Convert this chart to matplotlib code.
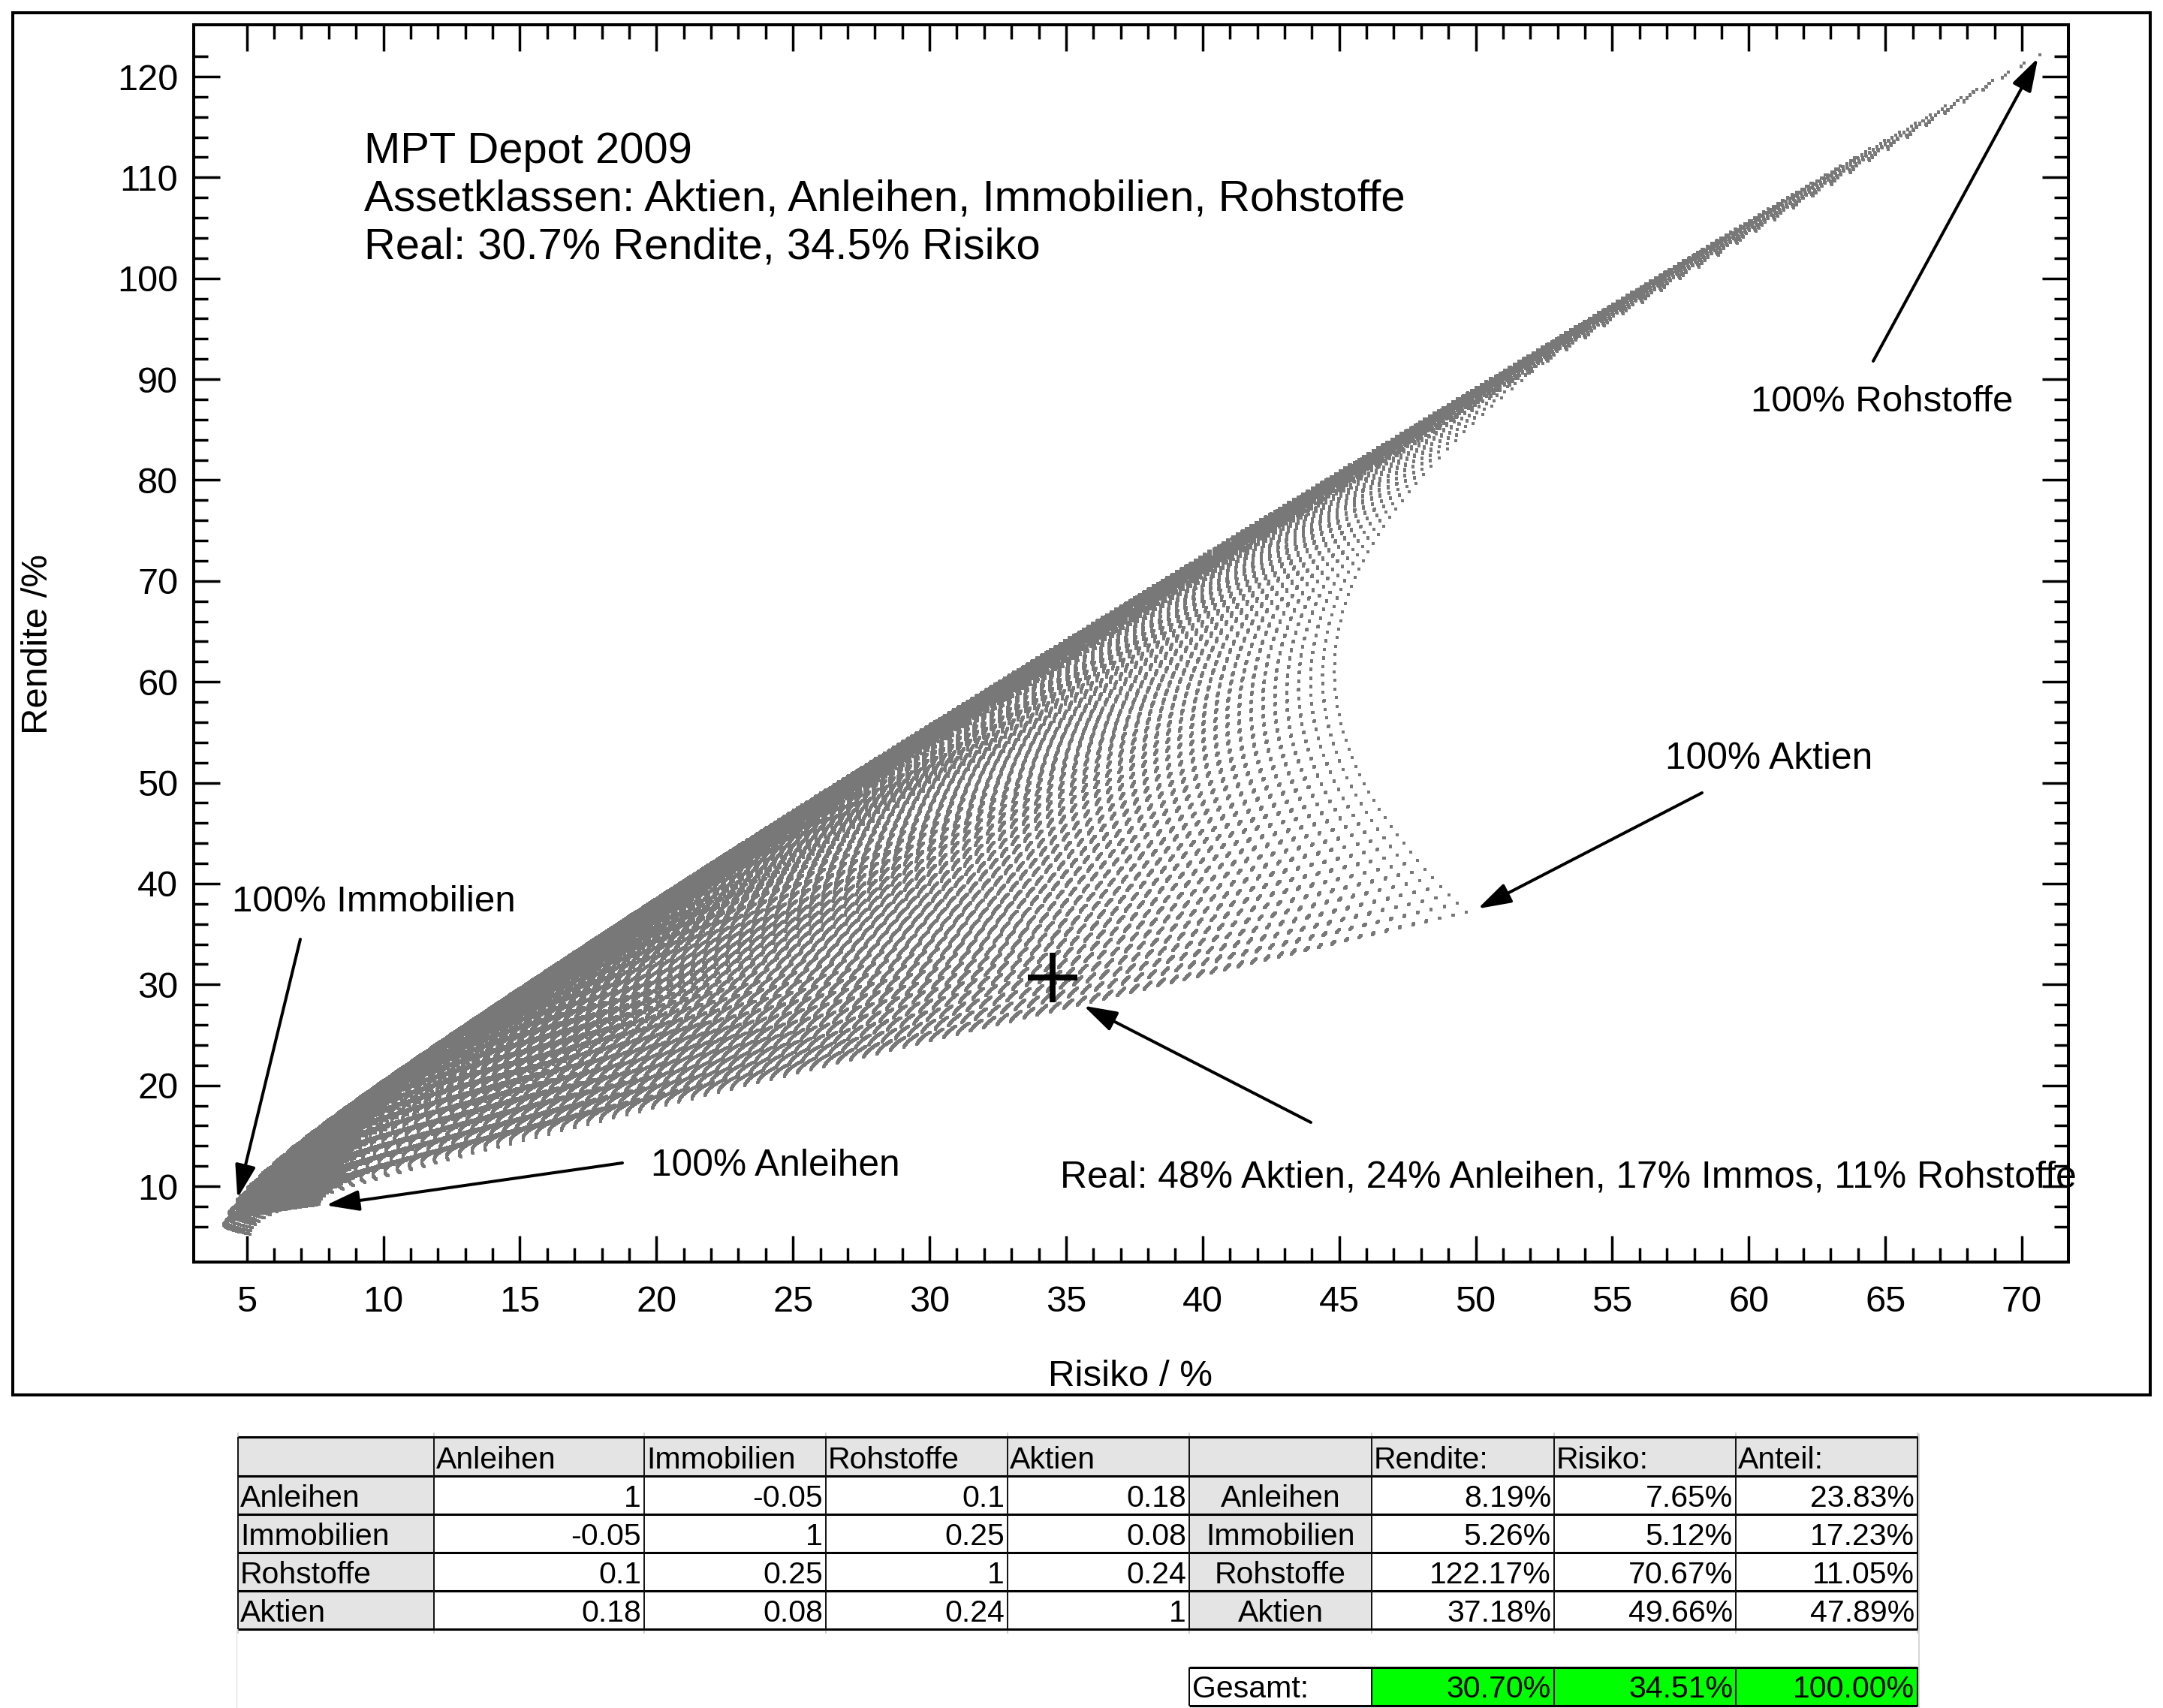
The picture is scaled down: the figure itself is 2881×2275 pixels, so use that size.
import numpy as np
import matplotlib
matplotlib.use("Agg")
import matplotlib.pyplot as plt
from matplotlib.patches import Rectangle
from matplotlib.ticker import FixedLocator

plt.rcParams['font.family'] = ['Liberation Sans', 'DejaVu Sans']

# ---- values as printed in the chart's table ----
ASSETS = ["Anleihen", "Immobilien", "Rohstoffe", "Aktien"]
KORRELATION = [[1, -0.05, 0.1, 0.18],
               [-0.05, 1, 0.25, 0.08],
               [0.1, 0.25, 1, 0.24],
               [0.18, 0.08, 0.24, 1]]
KORR_LABELS = [["1", "-0.05", "0.1", "0.18"],
               ["-0.05", "1", "0.25", "0.08"],
               ["0.1", "0.25", "1", "0.24"],
               ["0.18", "0.08", "0.24", "1"]]
RENDITE = [8.19, 5.26, 122.17, 37.18]
RISIKO = [7.65, 5.12, 70.67, 49.66]
ANTEIL = [23.83, 17.23, 11.05, 47.89]
GESAMT_RENDITE = 30.70
GESAMT_RISIKO = 34.51
GESAMT_ANTEIL = 100.00
X_MAJOR = list(range(5, 75, 5))
Y_MAJOR = list(range(10, 130, 10))
X_MINOR = [v for v in range(6, 70) if v % 5]
Y_MINOR = [v for v in range(6, 124, 2) if v % 10]
WEIGHT_STEPS = 100   # 1 % portfolio weight grid, judged from the dot spacing

# The cloud is too dense to read point by point. It is derived from the table's
# returns, risks and correlations using the standard portfolio formulas.
r = np.array(RENDITE)
s = np.array(RISIKO)
cov = np.array(KORRELATION) * np.outer(s, s)
i, j, k = np.meshgrid(np.arange(WEIGHT_STEPS + 1), np.arange(WEIGHT_STEPS + 1),
                      np.arange(WEIGHT_STEPS + 1), indexing='ij')
mask = i + j + k <= WEIGHT_STEPS
w = np.stack([i[mask], j[mask], k[mask], WEIGHT_STEPS - i[mask] - j[mask] - k[mask]], axis=1) / WEIGHT_STEPS
cloud_ret = w @ r
cloud_risk = np.sqrt(np.einsum('ni,ij,nj->n', w, cov, w))

W, H = 2881, 2275
fig = plt.figure(figsize=(W / 100, H / 100), dpi=100, facecolor='white')
L, R, T, B = 258, 2755, 33, 1681
ax = fig.add_axes([L / W, 1 - B / H, (R - L) / W, (B - T) / H])
XPX = (2693 - 328.7) / 65
YPX = (1580 - 102) / 110
ax.set_xlim(5 - (328.7 - L) / XPX, 70 + (R - 2693) / XPX)
ax.set_ylim(10 - (B - 1580) / YPX, 120 + (102 - T) / YPX)

ax.plot(cloud_risk, cloud_ret, ls='none', marker='s', ms=3.5, mew=0, color='#787878', zorder=2)
ax.plot([GESAMT_RISIKO], [GESAMT_RENDITE], ls='none', marker='+', ms=47.5, mew=5.6, color='black', zorder=3)

ax.xaxis.set_major_locator(FixedLocator(X_MAJOR))
ax.xaxis.set_minor_locator(FixedLocator(X_MINOR))
ax.yaxis.set_major_locator(FixedLocator(Y_MAJOR))
ax.yaxis.set_minor_locator(FixedLocator(Y_MINOR))
ax.tick_params(axis='both', which='major', direction='in', length=25.5, width=2.5,
               top=True, right=True, labelsize=35)
ax.tick_params(axis='both', which='minor', direction='in', length=13.5, width=2.5,
               top=True, right=True)
ax.tick_params(axis='x', which='major', pad=22)
ax.tick_params(axis='y', which='major', pad=15)
for sp in ax.spines.values():
    sp.set_linewidth(2.9)

# overlay in pixel coordinates for frame, annotations and table
ov = fig.add_axes([0, 0, 1, 1], facecolor='none', zorder=5)
ov.set_xlim(0, W)
ov.set_ylim(H, 0)
ov.axis('off')

ov.add_patch(Rectangle((17, 17), 2864 - 17, 1858 - 17, fill=False, ec='black', lw=2.9))

for txt, y, size in [("MPT Depot 2009", 217, 41.8),
                     ("Assetklassen: Aktien, Anleihen, Immobilien, Rohstoffe", 281, 42),
                     ("Real: 30.7% Rendite, 34.5% Risiko", 344, 41.7)]:
    ov.text(485, y, txt, fontsize=size, ha='left', va='baseline')

for txt, x, y, size in [("100% Rohstoffe", 2332, 548, 35.5),
                        ("100% Aktien", 2218, 1024, 35.7),
                        ("100% Immobilien", 309, 1214, 35.5),
                        ("100% Anleihen", 867, 1566, 35.7),
                        ("Real: 48% Aktien, 24% Anleihen, 17% Immos, 11% Rohstoffe", 1412, 1582, 35.9)]:
    ov.text(x, y, txt, fontsize=size, ha='left', va='baseline')

ov.text(1505, 1846, "Risiko / %", fontsize=35.5, ha='center', va='baseline')
ov.text(51, 858, "Rendite /%", fontsize=35.4, rotation=90, ha='center', va='center')

TIP_EXTEND = 3  # px: small correction so the drawn head ends on the reference tip
for tip, tail in [((2713, 80), (2495, 481)),
                  ((1971, 1209), (2267, 1056)),
                  ((1446, 1341), (1746, 1495)),
                  ((437, 1605), (829, 1549)),
                  ((317, 1593), (400, 1251))]:
    d = np.array(tip, float) - np.array(tail, float)
    aim = np.array(tip, float) + TIP_EXTEND * d / np.hypot(*d)
    ov.annotate("", xy=tuple(aim), xytext=tail,
                arrowprops=dict(arrowstyle="-|>,head_length=1.35,head_width=0.42", mutation_scale=20,
                                lw=2.9, color='black', shrinkA=0, shrinkB=0))

# ---- table ----
GREY = '#e4e4e4'
GREEN = '#00ff00'
colx = [317, 578, 858, 1100, 1342, 1584, 1827, 2070, 2312, 2554]
rowy = [1914, 1966, 2017, 2068, 2119, 2170]
fs = 29.5

def cell(c, r0, fc):
    ov.add_patch(Rectangle((colx[c], rowy[r0]), colx[c + 1] - colx[c], rowy[r0 + 1] - rowy[r0],
                           fc=fc, ec='none', zorder=1))

for c in range(9):
    cell(c, 0, GREY)
for r0 in range(1, 5):
    cell(0, r0, GREY)
    cell(5, r0, GREY)

for y in rowy:
    ov.plot([colx[0], colx[-1]], [y, y], color='black', lw=2.2, zorder=2, solid_capstyle='butt')
for x in colx:
    ov.plot([x, x], [rowy[0], rowy[-1]], color='#111111', lw=1.4, zorder=2, solid_capstyle='butt')
    ov.plot([x, x], [rowy[0] - 5, rowy[0]], color='#c8c8c8', lw=1.2, zorder=1)
    ov.plot([x, x], [rowy[-1], rowy[-1] + 5], color='#c8c8c8', lw=1.2, zorder=1)
ov.plot([315, 315], [2170, 2275], color='#e4e4e4', lw=1.0, zorder=1)
ov.plot([2556, 2556], [1910, 2275], color='#d0d0d0', lw=1.2, zorder=1)

# Headers
for c, t in enumerate(ASSETS):
    ov.text(colx[c + 1] + 3, rowy[1] - 10, t, fontsize=fs, ha='left', va='baseline', zorder=3)
for c, t in zip([6, 7, 8], ["Rendite:", "Risiko:", "Anteil:"]):
    ov.text(colx[c] + 3, rowy[1] - 10, t, fontsize=fs, ha='left', va='baseline', zorder=3)

# Body
for n, name in enumerate(ASSETS):
    base = rowy[n + 2] - 10
    ov.text(colx[0] + 3, base, name, fontsize=fs, ha='left', va='baseline', zorder=3)
    for c in range(4):
        ov.text(colx[c + 2] - 4, base, KORR_LABELS[n][c], fontsize=fs, ha='right', va='baseline', zorder=3)
    ov.text((colx[5] + colx[6]) / 2, base, name, fontsize=fs, ha='center', va='baseline', zorder=3)
    for c, vals in zip([7, 8, 9], [RENDITE, RISIKO, ANTEIL]):
        ov.text(colx[c] - 4, base, f"{vals[n]:.2f}%", fontsize=fs, ha='right', va='baseline', zorder=3)

# Gesamt row
gy0, gy1 = 2221, 2272
ov.add_patch(Rectangle((colx[6], gy0), colx[9] - colx[6], gy1 - gy0, fc=GREEN, ec='none', zorder=1))
for y in (gy0, gy1):
    ov.plot([colx[5], colx[9]], [y, y], color='black', lw=2.2, zorder=2, solid_capstyle='butt')
for x in colx[5:]:
    ov.plot([x, x], [gy0, gy1], color='black', lw=1.4, zorder=2, solid_capstyle='butt')
ov.text(colx[5] + 4, gy1 - 11, "Gesamt:", fontsize=fs, ha='left', va='baseline', zorder=3)
for c, v in zip([7, 8, 9], [GESAMT_RENDITE, GESAMT_RISIKO, GESAMT_ANTEIL]):
    ov.text(colx[c] - 4, gy1 - 11, f"{v:.2f}%", fontsize=fs, ha='right', va='baseline', zorder=3)

fig.savefig("out.png", dpi=100, facecolor='white')
